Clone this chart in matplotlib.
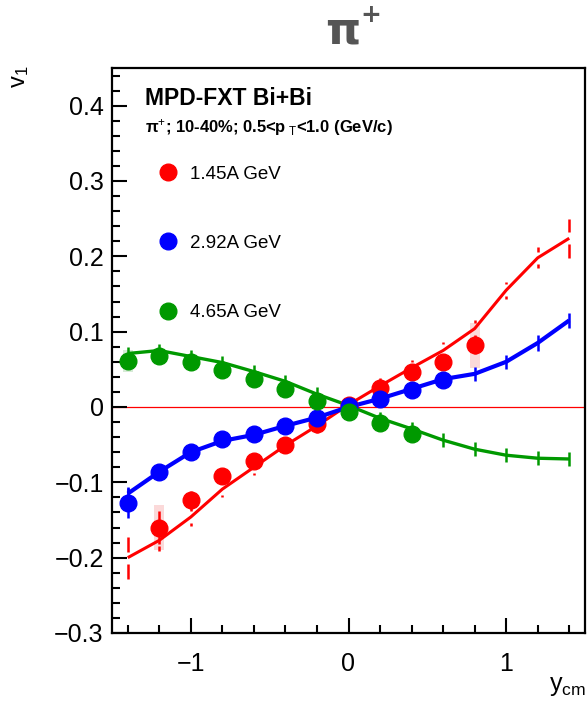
import matplotlib
matplotlib.use('Agg')
import matplotlib.pyplot as plt
from matplotlib.lines import Line2D
from matplotlib.patches import Rectangle
import numpy as np

plt.rcParams['font.family'] = ['Liberation Sans', 'DejaVu Sans']
plt.rcParams['mathtext.fontset'] = 'custom'
plt.rcParams['mathtext.rm'] = 'Liberation Sans'
plt.rcParams['mathtext.it'] = 'Liberation Sans:italic'
plt.rcParams['mathtext.bf'] = 'Liberation Sans:bold'
plt.rcParams['axes.unicode_minus'] = True

# ---------------- data ----------------
labels = ['1.45A GeV', '2.92A GeV', '4.65A GeV']
colors = ['#ff0000', '#0000ff', '#009900']
sys_colors = ['#fbd9d9', '#d9d9fb', '#d6ebd6']

# model curves (lines with error ticks)
y_model = [-1.4, -1.2, -1.0, -0.8, -0.6, -0.4, -0.2, 0.0, 0.2, 0.4, 0.6, 0.8, 1.0, 1.2, 1.4]
v1_model_145 = [-0.200, -0.177, -0.146, -0.109, -0.080, -0.051, -0.025, 0.003, 0.028, 0.052, 0.075, 0.104, 0.155, 0.198, 0.224]
err_model_145 = [0.028, 0.014, 0.012, 0.011, 0.010, 0.010, 0.009, 0.009, 0.010, 0.010, 0.011, 0.012, 0.011, 0.014, 0.026]
v1_model_292 = [-0.115, -0.086, -0.060, -0.045, -0.037, -0.025, -0.014, 0.000, 0.011, 0.024, 0.037, 0.044, 0.060, 0.085, 0.115]
err_model_292 = [0.009, 0.009, 0.008, 0.008, 0.008, 0.008, 0.008, 0.008, 0.008, 0.009, 0.009, 0.009, 0.009, 0.010, 0.010]
v1_model_465 = [0.071, 0.075, 0.067, 0.059, 0.047, 0.034, 0.017, 0.002, -0.015, -0.029, -0.044, -0.056, -0.064, -0.068, -0.069]
err_model_465 = [0.009, 0.009, 0.009, 0.009, 0.009, 0.009, 0.009, 0.009, 0.009, 0.009, 0.009, 0.009, 0.009, 0.009, 0.009]

# data points
y_145 = [-1.2, -1.0, -0.8, -0.6, -0.4, -0.2, 0.0, 0.2, 0.4, 0.6, 0.8]
v1_145 = [-0.160, -0.124, -0.092, -0.072, -0.051, -0.022, 0.002, 0.025, 0.047, 0.060, 0.082]
stat_145 = [0.022, 0.012, 0.010, 0.008, 0.006, 0.006, 0.005, 0.005, 0.006, 0.008, 0.012]
sys_145 = [0.030, 0.010, 0.010, 0.006, 0.005, 0.005, 0.004, 0.005, 0.006, 0.008, 0.030]

y_292 = [-1.4, -1.2, -1.0, -0.8, -0.6, -0.4, -0.2, 0.0, 0.2, 0.4, 0.6]
v1_292 = [-0.127, -0.086, -0.060, -0.043, -0.036, -0.025, -0.015, 0.001, 0.011, 0.023, 0.036]
stat_292 = [0.020, 0.008, 0.006, 0.005, 0.005, 0.004, 0.004, 0.004, 0.004, 0.005, 0.005]
sys_292 = [0.008, 0.006, 0.005, 0.005, 0.004, 0.004, 0.004, 0.004, 0.004, 0.004, 0.005]

y_465 = [-1.4, -1.2, -1.0, -0.8, -0.6, -0.4, -0.2, 0.0, 0.2, 0.4]
v1_465 = [0.061, 0.068, 0.060, 0.049, 0.037, 0.024, 0.008, -0.007, -0.021, -0.036]
stat_465 = [0.008, 0.007, 0.006, 0.005, 0.005, 0.004, 0.004, 0.004, 0.004, 0.005]
sys_465 = [0.015, 0.006, 0.005, 0.005, 0.004, 0.004, 0.004, 0.004, 0.004, 0.005]

models = [(v1_model_145, err_model_145), (v1_model_292, err_model_292), (v1_model_465, err_model_465)]
datasets = [(y_145, v1_145, stat_145, sys_145), (y_292, v1_292, stat_292, sys_292), (y_465, v1_465, stat_465, sys_465)]
model_lw = [2.2, 3.0, 2.4]
err_gap = [0.008, 0.0, 0.0]

# ---------------- figure ----------------
W, H = 587, 704
fig = plt.figure(figsize=(W / 100, H / 100), dpi=100)
ax = fig.add_axes([112 / W, 1 - 633 / H, (585 - 112) / W, (633 - 68) / H])

ax.set_xlim(-1.5, 1.5)
ax.set_ylim(-0.3, 0.45)

# zero line
ax.axhline(0, color='#ff0000', lw=0.9, zorder=1)

ym = np.array(y_model)
# systematic boxes
box_hw = 0.032
for (yx, v, st, sy), sc in zip(datasets, sys_colors):
    for xi, vi, si in zip(yx, v, sy):
        ax.add_patch(Rectangle((xi - box_hw, vi - si), 2 * box_hw, 2 * si,
                               facecolor=sc, edgecolor='none', zorder=1.5))

# model lines
for (v, e), c, lw, g in zip(models, colors, model_lw, err_gap):
    v = np.array(v); e = np.array(e)
    ax.plot(ym, v, color=c, lw=lw, zorder=2, solid_capstyle='butt')
    if g > 0:
        m = e > g
        ax.vlines(ym[m], v[m] + g, v[m] + e[m], color=c, lw=1.8, zorder=2)
        ax.vlines(ym[m], v[m] - e[m], v[m] - g, color=c, lw=1.8, zorder=2)
    else:
        ax.vlines(ym, v - e, v + e, color=c, lw=1.8, zorder=2)

# data points
for (yx, v, st, sy), c in zip(datasets, colors):
    ax.errorbar(yx, v, yerr=st, fmt='o', color=c, ms=12, mec=c, elinewidth=1.8,
                capsize=0, zorder=3)

# ticks
ax.set_xticks([-1, 0, 1])
ax.set_xticks(np.arange(-1.4, 1.41, 0.2), minor=True)
ax.set_yticks(np.arange(-0.3, 0.41, 0.1))
ax.set_yticks(np.arange(-0.3, 0.45, 0.02), minor=True)
ax.set_xticklabels(['\u22121', '0', '1'])
ax.set_yticklabels(['\u22120.3', '\u22120.2', '\u22120.1', '0', '0.1', '0.2', '0.3', '0.4'])
ax.tick_params(axis='both', which='both', direction='in', top=False, right=False, width=1.5)
ax.tick_params(axis='both', which='major', length=11, labelsize=18)
ax.tick_params(axis='both', which='minor', length=5.5)
ax.tick_params(axis='x', which='major', pad=14)
ax.tick_params(axis='y', which='major', pad=6)
for s in ax.spines.values():
    s.set_linewidth(1.6)

# axis labels
fig.text(20 / W, 1 - 66 / H, r'v$_{1}$', rotation=90, ha='center', va='top', fontsize=17)
fig.text(586 / W, 1 - 698 / H, r'y$_{\mathrm{cm}}$', ha='right', va='bottom', fontsize=18)

# title
fig.text(343 / W, 1 - 43 / H, '\u03c0', fontsize=32, fontweight='bold', color='#555555',
         family='DejaVu Sans', ha='center', va='baseline')
fig.text(371 / W, 1 - 22 / H, '+', fontsize=18, fontweight='bold', color='#555555',
         family='DejaVu Sans', ha='center', va='baseline')

# annotations
fig.text(145 / W, 1 - 105 / H, 'MPD-FXT Bi+Bi', fontsize=16.5, fontweight='bold', va='baseline')
fig.text(145 / W, 1 - 132 / H, '\u03c0$^{+}$; 10-40%; 0.5<p$_{\\ \\mathrm{T}}$<1.0 (GeV/c)',
         fontsize=12, fontweight='bold', va='baseline')

# legend
handles = [Line2D([], [], marker='o', ls='none', color=c, ms=12) for c in colors]
leg = ax.legend(handles, labels, loc='upper left', bbox_to_anchor=(158.6 / W, 1 - 165.5 / H),
                bbox_transform=fig.transFigure, frameon=False, fontsize=13.5,
                handlelength=1.0, handletextpad=0.67, labelspacing=2.78,
                borderpad=0, borderaxespad=0, numpoints=1)

fig.savefig('out.png', dpi=100)
